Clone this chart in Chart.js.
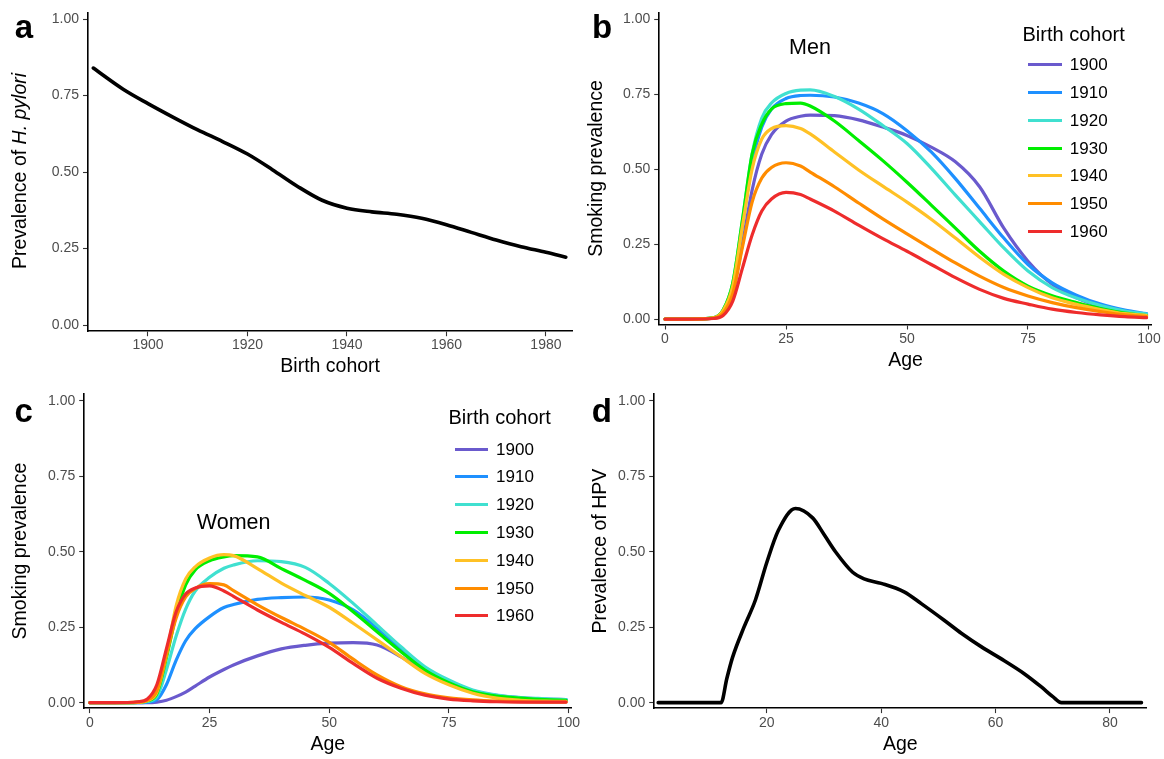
<!DOCTYPE html>
<html><head><meta charset="utf-8">
<script src="https://cdn.jsdelivr.net/npm/chart.js@4.4.1/dist/chart.umd.min.js"></script>
<style>
html,body{margin:0;padding:0;background:#fff;}
#wrap{position:relative;width:1164px;height:759px;overflow:hidden;font-family:"Liberation Sans",Arial,sans-serif;background:#fff;}
canvas{position:absolute;}
.t{position:absolute;white-space:nowrap;color:#000;}
</style></head><body><div id="wrap">
<canvas id="ca" width="582" height="380" style="left:0;top:0"></canvas>
<canvas id="cb" width="582" height="380" style="left:582px;top:0"></canvas>
<canvas id="cc" width="582" height="379" style="left:0;top:380px"></canvas>
<canvas id="cd" width="582" height="379" style="left:582px;top:380px"></canvas>
</div>
<script>
// ---------- data ----------
const pyloriYears  = [1889, 1895, 1900, 1905, 1910, 1915, 1920, 1925, 1930, 1935, 1940, 1945, 1950, 1955, 1960, 1965, 1970, 1975, 1980, 1984];
const pyloriValues = [0.84, 0.771, 0.724, 0.68, 0.638, 0.60, 0.559, 0.508, 0.454, 0.408, 0.382, 0.370, 0.362, 0.349, 0.328, 0.303, 0.278, 0.256, 0.238, 0.222];

const cohorts = ['1900', '1910', '1920', '1930', '1940', '1950', '1960'];
const cohortColors = ['#6A5ACD', '#1E90FF', '#40E0D0', '#00EE00', '#FFC125', '#FF8C00', '#EE2C2C'];

const smokingAges = [0, 5, 10, 12, 14, 16, 18, 20, 22, 25, 28, 30, 35, 40, 45, 50, 55, 60, 65, 70, 75, 80, 85, 90, 95, 99.5];

const men1900 = [0, 0, 0.003, 0.022, 0.09, 0.25, 0.43, 0.55, 0.615, 0.66, 0.676, 0.68, 0.678, 0.664, 0.64, 0.612, 0.573, 0.524, 0.441, 0.303, 0.193, 0.116, 0.071, 0.042, 0.025, 0.016];
const men1910 = [0, 0, 0.004, 0.028, 0.11, 0.31, 0.52, 0.64, 0.70, 0.735, 0.745, 0.746, 0.74, 0.72, 0.685, 0.628, 0.557, 0.468, 0.369, 0.27, 0.182, 0.121, 0.08, 0.05, 0.03, 0.018];
const men1920 = [0, 0, 0.004, 0.03, 0.12, 0.33, 0.55, 0.67, 0.72, 0.752, 0.763, 0.764, 0.742, 0.70, 0.645, 0.585, 0.503, 0.413, 0.325, 0.237, 0.16, 0.105, 0.07, 0.045, 0.027, 0.017];
const men1930 = [0, 0, 0.004, 0.03, 0.12, 0.33, 0.55, 0.65, 0.70, 0.718, 0.72, 0.71, 0.66, 0.595, 0.528, 0.456, 0.38, 0.303, 0.226, 0.16, 0.11, 0.078, 0.055, 0.035, 0.02, 0.012];
const men1940 = [0, 0, 0.004, 0.028, 0.11, 0.31, 0.50, 0.60, 0.635, 0.645, 0.635, 0.617, 0.557, 0.497, 0.443, 0.39, 0.333, 0.27, 0.206, 0.149, 0.105, 0.071, 0.049, 0.032, 0.018, 0.012];
const men1950 = [0, 0, 0.003, 0.02, 0.085, 0.24, 0.39, 0.47, 0.505, 0.521, 0.51, 0.49, 0.441, 0.387, 0.334, 0.284, 0.235, 0.187, 0.143, 0.105, 0.077, 0.055, 0.038, 0.025, 0.014, 0.008];
const men1960 = [0, 0, 0.002, 0.012, 0.06, 0.17, 0.28, 0.36, 0.40, 0.422, 0.415, 0.40, 0.36, 0.313, 0.268, 0.226, 0.182, 0.138, 0.099, 0.069, 0.05, 0.033, 0.022, 0.014, 0.008, 0.005];

const women1900 = [0, 0, 0, 0, 0.002, 0.008, 0.02, 0.035, 0.055, 0.085, 0.11, 0.125, 0.155, 0.178, 0.19, 0.197, 0.199, 0.191, 0.152, 0.102, 0.064, 0.038, 0.024, 0.016, 0.012, 0.01];
const women1910 = [0, 0, 0, 0.002, 0.01, 0.06, 0.14, 0.205, 0.245, 0.285, 0.315, 0.325, 0.342, 0.348, 0.35, 0.34, 0.307, 0.246, 0.174, 0.108, 0.064, 0.036, 0.02, 0.014, 0.011, 0.01];
const women1920 = [0, 0, 0.001, 0.004, 0.02, 0.11, 0.22, 0.31, 0.37, 0.415, 0.445, 0.456, 0.47, 0.467, 0.448, 0.395, 0.329, 0.257, 0.185, 0.119, 0.075, 0.042, 0.025, 0.017, 0.013, 0.01];
const women1930 = [0, 0, 0.001, 0.006, 0.03, 0.15, 0.29, 0.39, 0.44, 0.47, 0.483, 0.487, 0.483, 0.444, 0.405, 0.362, 0.301, 0.235, 0.169, 0.108, 0.066, 0.036, 0.022, 0.015, 0.01, 0.008];
const women1940 = [0, 0, 0.001, 0.007, 0.035, 0.16, 0.32, 0.41, 0.45, 0.479, 0.49, 0.487, 0.444, 0.396, 0.355, 0.316, 0.263, 0.208, 0.152, 0.097, 0.059, 0.031, 0.015, 0.008, 0.005, 0.004];
const women1950 = [0, 0, 0.002, 0.008, 0.04, 0.16, 0.28, 0.35, 0.378, 0.394, 0.39, 0.371, 0.324, 0.282, 0.243, 0.2, 0.144, 0.092, 0.053, 0.029, 0.016, 0.009, 0.005, 0.003, 0.002, 0.002];
const women1960 = [0, 0, 0.003, 0.012, 0.06, 0.18, 0.30, 0.36, 0.38, 0.387, 0.37, 0.352, 0.307, 0.266, 0.227, 0.183, 0.13, 0.081, 0.048, 0.025, 0.012, 0.006, 0.003, 0.002, 0.002, 0.002];

const hpvAges   = [1, 12, 13, 14, 16, 18, 20, 22, 25, 28, 30, 32, 35, 37, 40, 44, 47, 51, 54, 58, 61, 65, 68, 70, 71.5, 85.5];
const hpvValues = [0, 0, 0.08, 0.15, 0.25, 0.34, 0.465, 0.57, 0.643, 0.612, 0.557, 0.5, 0.432, 0.41, 0.395, 0.367, 0.328, 0.273, 0.23, 0.179, 0.145, 0.096, 0.052, 0.02, 0, 0];

const probTicks = [0, 0.25, 0.5, 0.75, 1];
const cohortTicks = [1900, 1920, 1940, 1960, 1980];
const ageTicks = [0, 25, 50, 75, 100];
const hpvAgeTicks = [20, 40, 60, 80];

const menSeries = [men1900, men1910, men1920, men1930, men1940, men1950, men1960];
const womenSeries = [women1900, women1910, women1920, women1930, women1940, women1950, women1960];

// ---------- helpers ----------
const FAM = '"Liberation Sans", Arial, sans-serif';
function pts(xs, ys) { return xs.map((x, i) => ({x: x, y: ys[i]})); }
function cohortDatasets(series) {
  return series.map((vals, i) => ({
    label: cohorts[i], data: pts(smokingAges, vals),
    borderColor: cohortColors[i], backgroundColor: cohortColors[i],
    borderWidth: 3.2, order: cohorts.length - i
  }));
}

function makeChart(id, o) {
  return new Chart(document.getElementById(id), {
    type: 'line',
    data: {datasets: o.datasets},
    options: {
      responsive: false, animation: false, devicePixelRatio: 1,
      layout: {autoPadding: false, padding: {top: o.padTop, right: o.padRight, left: 0, bottom: 0}},
      plugins: {legend: {display: false}, tooltip: {enabled: false}},
      elements: {point: {radius: 0}, line: {cubicInterpolationMode: 'monotone', borderCapStyle: 'round', borderJoinStyle: 'round', fill: false}},
      scales: {
        x: {
          type: 'linear', min: o.xMin, max: o.xMax,
          afterBuildTicks: s => { s.ticks = o.xTicks.map(v => ({value: v})); },
          afterFit: s => { s.height = o.xHeight; },
          grid: {display: true, drawOnChartArea: false, drawTicks: true, tickLength: 5, tickColor: '#333333', tickWidth: 1.1},
          border: {display: true, color: '#000000', width: 1.6},
          ticks: {autoSkip: false, maxRotation: 0, minRotation: 0, padding: o.xTickPad, color: '#4D4D4D', font: {family: FAM, size: 14}, callback: v => String(v)},
          title: {display: true, text: o.xTitle, color: '#000000', font: {family: FAM, size: 19.5}, padding: {top: 0, bottom: o.xTitlePad}}
        },
        y: {
          type: 'linear', min: o.yMin, max: o.yMax,
          afterBuildTicks: s => { s.ticks = probTicks.map(v => ({value: v})); },
          afterFit: s => { s.width = o.yWidth; },
          grid: {display: true, drawOnChartArea: false, drawTicks: true, tickLength: 5, tickColor: '#333333', tickWidth: 1.1},
          border: {display: true, color: '#000000', width: 1.6},
          ticks: {autoSkip: false, padding: 4, color: '#4D4D4D', font: {family: FAM, size: 14}, callback: v => Number(v).toFixed(2)},
          title: {display: !!o.yTitle, text: o.yTitle || '', color: '#000000', font: {family: FAM, size: 19.5}, padding: {top: o.yTitlePad || 0, bottom: 0}}
        }
      }
    }
  });
}

// ---------- panels ----------
makeChart('ca', {
  datasets: [{label: 'H. pylori', data: pts(pyloriYears, pyloriValues), borderColor: '#000', borderWidth: 3.6}],
  xMin: 1887.94, xMax: 1985.3, xTicks: cohortTicks, yMin: -0.02, yMax: 1.022,
  yWidth: 88, xHeight: 48.8, padTop: 9.9, padRight: 9.7,
  xTickPad: 0.4, xTitlePad: 1.3, xTitle: 'Birth cohort', yTitle: null
});
makeChart('cb', {
  datasets: cohortDatasets(menSeries),
  xMin: -1.2, xMax: 100.6, xTicks: ageTicks, yMin: -0.018, yMax: 1.022,
  yWidth: 77.2, xHeight: 55.5, padTop: 9.3, padRight: 12.1,
  xTickPad: 1.2, xTitlePad: 7.5, xTitle: 'Age', yTitle: 'Smoking prevalence', yTitlePad: 3.1
});
makeChart('cc', {
  datasets: cohortDatasets(womenSeries),
  xMin: -1.2, xMax: 100.6, xTicks: ageTicks, yMin: -0.018, yMax: 1.022,
  yWidth: 84.2, xHeight: 50.9, padTop: 14.1, padRight: 7.1,
  xTickPad: 1.8, xTitlePad: 2.8, xTitle: 'Age', yTitle: 'Smoking prevalence', yTitlePad: 9.3
});
makeChart('cd', {
  datasets: [{label: 'HPV', data: pts(hpvAges, hpvValues), borderColor: '#000', borderWidth: 3.6}],
  xMin: 0.3, xMax: 86.35, xTicks: hpvAgeTicks, yMin: -0.018, yMax: 1.022,
  yWidth: 72.2, xHeight: 50.9, padTop: 14.1, padRight: 17.7,
  xTickPad: 1.8, xTitlePad: 2.8, xTitle: 'Age', yTitle: 'Prevalence of HPV', yTitlePad: 6.9
});

// ---------- HTML text overlays ----------
const wrap = document.getElementById('wrap');
function addText(html, css) {
  const d = document.createElement('div');
  d.className = 't'; d.innerHTML = html;
  Object.assign(d.style, css);
  wrap.appendChild(d);
  return d;
}
function centered(html, cx, cy, size, extra) {
  return addText(html, Object.assign({left: cx + 'px', top: cy + 'px', fontSize: size + 'px', lineHeight: size + 'px',
    transform: 'translate(-50%,-50%)'}, extra || {}));
}
[['a', 14.7, 10.4], ['b', 592, 10.4], ['c', 14.5, 393.8], ['d', 591.7, 393.8]].forEach(([t, x, y]) => {
  addText(t, {left: x + 'px', top: y + 'px', fontSize: '33px', lineHeight: '33px', fontWeight: 'bold'});
});
centered('Prevalence of <i>H. pylori</i>', 20, 170.9, 19.5, {transform: 'translate(-50%,-50%) rotate(-90deg)'});
centered('Men', 810, 47.5, 21.5);
centered('Women', 233.7, 522.5, 21.5);
function legend(titleLeft, titleY, lineLeft, labelLeft, firstY, step) {
  addText('Birth cohort', {left: titleLeft + 'px', top: (titleY - 10) + 'px', fontSize: '20px', lineHeight: '20px'});
  cohorts.forEach((c, i) => {
    const y = firstY + step * i;
    const ln = document.createElement('div');
    Object.assign(ln.style, {position: 'absolute', left: lineLeft + 'px', top: (y - 1.5) + 'px', width: '33.5px', height: '3px', background: cohortColors[i]});
    wrap.appendChild(ln);
    addText(c, {left: labelLeft + 'px', top: (y - 8.5) + 'px', fontSize: '17px', lineHeight: '17px'});
  });
}
legend(1022.5, 34, 1028.3, 1069.8, 64.3, 27.9);
legend(448.5, 417.3, 454.6, 496.1, 449, 27.8);
</script>
</body></html>
